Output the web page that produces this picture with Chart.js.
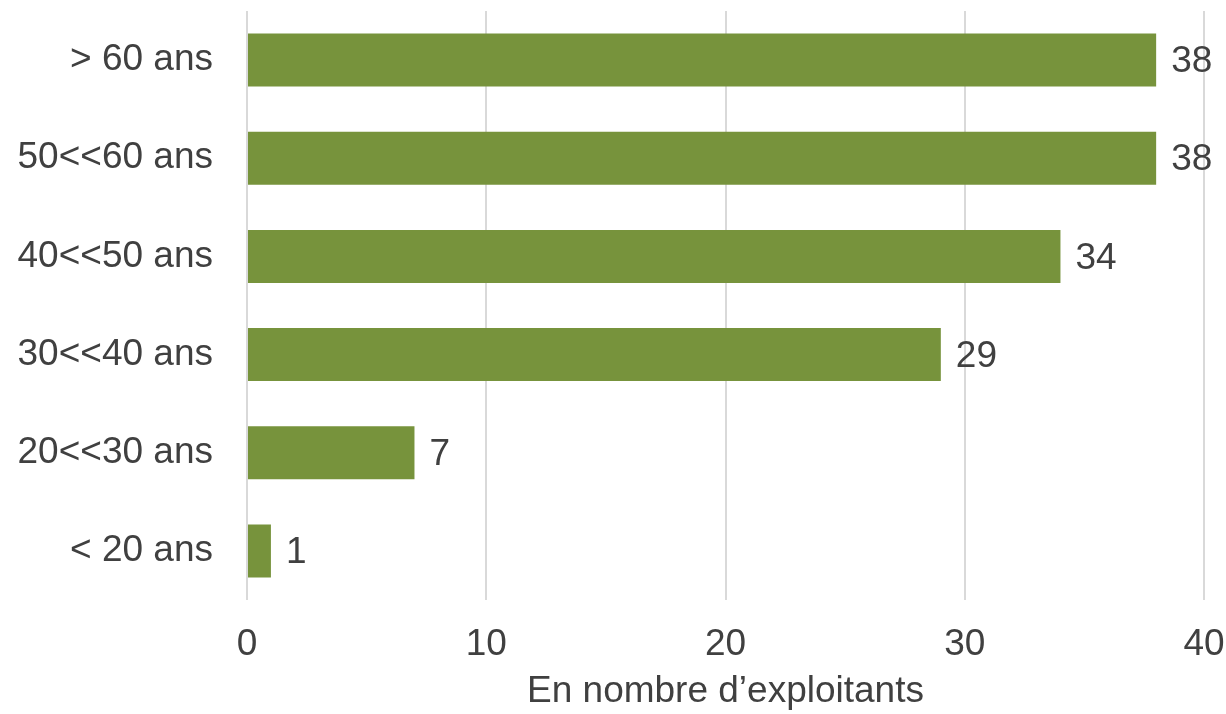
<!DOCTYPE html>
<html>
<head>
<meta charset="utf-8">
<script src="https://cdn.jsdelivr.net/npm/chart.js@4"></script>
<style>
  html, body { margin: 0; padding: 0; background: #fff; }
  #wrap { width: 1226px; height: 714px; }
</style>
</head>
<body>
<div id="wrap"><canvas id="barChart" width="1226" height="714"></canvas></div>
<script>
const ageGroups = ['> 60 ans', '50<<60 ans', '40<<50 ans', '30<<40 ans', '20<<30 ans', '< 20 ans'];
const farmers = [38, 38, 34, 29, 7, 1];
const axisTitle = 'En nombre d\u2019exploitants';

const textColor = '#404040';
const barColor = '#77933c';
const fontFamily = '"Liberation Sans", Arial, sans-serif';
const fontSize = 37;

// simple value labels at the end of each bar
const valueLabels = {
  id: 'valueLabels',
  afterDatasetsDraw(chart) {
    const ctx = chart.ctx;
    const meta = chart.getDatasetMeta(0);
    ctx.save();
    ctx.font = fontSize + 'px ' + fontFamily;
    ctx.fillStyle = textColor;
    ctx.textAlign = 'left';
    ctx.textBaseline = 'middle';
    meta.data.forEach((bar, i) => {
      ctx.fillText(String(farmers[i]), bar.x + 15, bar.y + 2);
    });
    ctx.restore();
  }
};

new Chart(document.getElementById('barChart'), {
  type: 'bar',
  data: {
    labels: ageGroups,
    datasets: [{
      data: farmers,
      backgroundColor: barColor,
      categoryPercentage: 1,
      barPercentage: 0.54
    }]
  },
  options: {
    indexAxis: 'y',
    responsive: false,
    animation: false,
    layout: { padding: { top: 11, right: 22, bottom: 0, left: 0 } },
    plugins: {
      legend: { display: false },
      tooltip: { enabled: false }
    },
    scales: {
      x: {
        min: 0,
        max: 40,
        ticks: {
          stepSize: 10,
          color: textColor,
          padding: 23,
          font: { family: fontFamily, size: fontSize }
        },
        grid: { color: '#d9d9d9', lineWidth: 2, drawTicks: false },
        border: { display: false },
        title: {
          display: true,
          text: axisTitle,
          color: textColor,
          font: { family: fontFamily, size: fontSize },
          padding: { top: 0, bottom: 0 }
        },
        afterFit(scale) {
          scale.height = 114;
          scale.paddingLeft = 0;
          scale.paddingRight = 0;
        }
      },
      y: {
        ticks: {
          color: textColor,
          padding: 34,
          font: { family: fontFamily, size: fontSize }
        },
        grid: { display: false, drawTicks: false },
        border: { display: false },
        afterFit(scale) {
          scale.width = 247;
          scale.paddingTop = 0;
          scale.paddingBottom = 0;
        }
      }
    }
  },
  plugins: [valueLabels]
});
</script>
</body>
</html>
